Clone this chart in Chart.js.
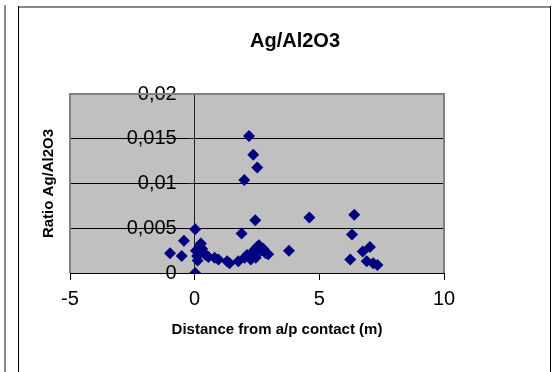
<!DOCTYPE html>
<html lang="en">
<head>
<meta charset="UTF-8">
<title>Ag/Al2O3</title>
<script src="https://cdn.jsdelivr.net/npm/chart.js@4"></script>
<style>
  html, body { margin: 0; padding: 0; background: #fff; }
  #wrap { width: 560px; height: 372px; }
</style>
</head>
<body>
<div id="wrap"><canvas id="chart" width="560" height="372"></canvas></div>
<script>
// Distance from the a/p contact (m) and the Ag/Al2O3 ratio for each sample
const distance = [
  -0.99, -0.52, -0.43, 0.02, 0.02, 0.05, 0.10, 0.12, 0.20, 0.25,
  0.30, 0.38, 0.45, 0.55, 0.80, 0.95, 1.30, 1.40, 1.75, 1.88,
  1.99, 2.00, 2.10, 2.18, 2.25, 2.30, 2.35, 2.40, 2.43, 2.45,
  2.50, 2.51, 2.58, 2.65, 2.75, 2.85, 2.95, 3.78, 4.60, 6.24,
  6.31, 6.40, 6.74, 6.90, 7.03, 7.16, 7.33
];
const ratio = [
  0.0022, 0.0019, 0.0036, 0.0049, 0.0000, 0.0025, 0.0019, 0.0014, 0.0030, 0.0033,
  0.0027, 0.0022, 0.0020, 0.0018, 0.0017, 0.0015, 0.0013, 0.0011, 0.0013, 0.0044,
  0.0104, 0.0017, 0.0020, 0.0153, 0.0015, 0.0022, 0.0132, 0.0026, 0.0059, 0.0017,
  0.0029, 0.0118, 0.0031, 0.0025, 0.0027, 0.0022, 0.0021, 0.0025, 0.0062, 0.0015,
  0.0043, 0.0065, 0.0024, 0.0013, 0.0029, 0.0011, 0.0009
];
const xTicks = [-5, 0, 5, 10];
const yTicks = [0, 0.005, 0.01, 0.015, 0.02];

const FONT = 'Liberation Sans, Arial, sans-serif';
Chart.defaults.font.family = FONT;
Chart.defaults.color = '#000';

// page frames, grey plot background and plot border
const chartFrame = {
  id: 'chartFrame',
  beforeDraw(chart) {
    const ctx = chart.ctx;
    const a = chart.chartArea;
    ctx.save();
    ctx.fillStyle = '#fff';
    ctx.fillRect(0, 0, chart.width, chart.height);
    // neighbouring frame edge on the far left
    ctx.fillStyle = '#888';
    ctx.fillRect(4, 5, 2, chart.height);
    // chart frame
    ctx.fillRect(18, 6, 533, 2);
    ctx.fillStyle = '#000';
    ctx.fillRect(18, 6, 1, chart.height);
    ctx.fillRect(550, 6, 1, chart.height);
    // plot background
    ctx.fillStyle = '#c0c0c0';
    ctx.fillRect(a.left, a.top, a.right - a.left, a.bottom - a.top);
    ctx.restore();
  },
  beforeDatasetsDraw(chart) {
    const ctx = chart.ctx;
    const a = chart.chartArea;
    ctx.save();
    ctx.strokeStyle = '#808080';
    ctx.lineWidth = 2;
    ctx.beginPath();
    ctx.moveTo(a.left, a.bottom);
    ctx.lineTo(a.left, a.top);
    ctx.lineTo(a.right, a.top);
    ctx.lineTo(a.right, a.bottom);
    ctx.stroke();
    ctx.restore();
  },
  afterDraw(chart) {
    // x axis title, placed like the spreadsheet original
    const ctx = chart.ctx;
    ctx.save();
    ctx.font = 'bold 15px ' + FONT;
    ctx.fillStyle = '#000';
    ctx.textAlign = 'center';
    ctx.textBaseline = 'middle';
    ctx.fillText('Distance from a/p contact (m)', 277, 330);
    ctx.restore();
  }
};

new Chart(document.getElementById('chart'), {
  type: 'scatter',
  data: {
    datasets: [{
      data: distance.map((d, i) => ({ x: d, y: ratio[i] })),
      pointStyle: 'rectRot',
      pointRadius: 6,
      pointHoverRadius: 6,
      backgroundColor: '#000080',
      borderColor: '#000080',
      borderWidth: 0
    }]
  },
  options: {
    responsive: false,
    animation: false,
    layout: { padding: { left: 30, right: 0, top: 0, bottom: 54 } },
    plugins: {
      legend: { display: false },
      tooltip: { enabled: false },
      title: {
        display: true,
        text: 'Ag/Al2O3',
        color: '#000',
        font: { size: 20, weight: 'bold' },
        padding: { top: 29, bottom: 41 }
      }
    },
    scales: {
      x: {
        type: 'linear',
        position: 'bottom',
        min: -5,
        max: 10,
        afterBuildTicks: s => { s.ticks = xTicks.map(v => ({ value: v })); },
        ticks: { font: { size: 20 }, color: '#000', padding: 7, maxRotation: 0 },
        grid: { drawOnChartArea: false, drawTicks: true, tickLength: 7, tickColor: '#000' },
        border: { display: true, color: '#000', width: 1 }
      },
      // value axis crossing at x = 0: grid lines, tick marks and axis line
      y: {
        type: 'linear',
        position: { x: 0 },
        min: 0,
        max: 0.02,
        afterBuildTicks: s => { s.ticks = yTicks.map(v => ({ value: v })); },
        ticks: { display: false },
        grid: {
          color: c => (c.tick && c.tick.value === 0.02) ? '#808080' : '#000',
          tickColor: '#222',
          tickLength: 6
        },
        border: { display: true, color: '#222', width: 1 }
      },
      // tick labels for the value axis, sitting just left of the crossing
      yLabels: {
        type: 'linear',
        position: { x: -0.72 },
        min: 0,
        max: 0.02,
        afterBuildTicks: s => { s.ticks = yTicks.map(v => ({ value: v })); },
        ticks: {
          font: { size: 20 },
          color: '#000',
          callback: v => String(v).replace('.', ',')
        },
        grid: { display: false, drawTicks: false },
        border: { display: false }
      },
      yTitle: {
        type: 'linear',
        position: 'left',
        min: 0,
        max: 0.02,
        ticks: { display: false },
        grid: { display: false, drawTicks: false },
        border: { display: false },
        title: {
          display: true,
          text: 'Ratio Ag/Al2O3',
          color: '#000',
          font: { size: 15, weight: 'bold' },
          padding: { top: 10, bottom: 12 }
        }
      },
      yRight: {
        type: 'linear',
        position: 'right',
        min: 0,
        max: 0.02,
        ticks: { display: false },
        grid: { display: false, drawTicks: false },
        border: { display: false },
        afterFit: s => { s.width = 116; }
      }
    }
  },
  plugins: [chartFrame]
});
</script>
</body>
</html>
